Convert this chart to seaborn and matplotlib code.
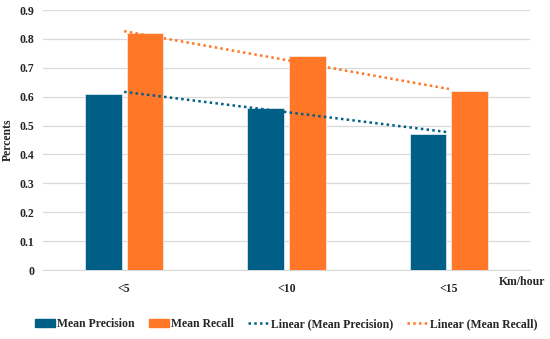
import pandas as pd
import seaborn as sns
import numpy as np
from matplotlib import pyplot as plt
from matplotlib.lines import Line2D

speeds = ["<5", "<10", "<15"]
mean_precision = [0.61, 0.56, 0.47]
mean_recall = [0.82, 0.74, 0.62]
y_ticks = [0, 0.1, 0.2, 0.3, 0.4, 0.5, 0.6, 0.7, 0.8, 0.9]

blue = "#005F86"
orange = "#FF7727"

df = pd.DataFrame({
    "speed": speeds * 2,
    "value": mean_precision + mean_recall,
    "metric": ["Mean Precision"] * 3 + ["Mean Recall"] * 3,
})

sns.set_style("white")
plt.rcParams["font.family"] = ["Liberation Serif", "DejaVu Serif"]
plt.rcParams["font.weight"] = "bold"

fig = plt.figure(figsize=(5.5, 3.39), dpi=100)
ax = fig.add_axes([0.078, 0.2035, 0.886, 0.767])

sns.barplot(
    df,
    x="speed",
    y="value",
    hue="metric",
    palette=[blue, orange],
    saturation=1,
    width=0.515,
    gap=0.12,
    edgecolor="#f0f0f0",
    linewidth=0.5,
    legend=False,
    ax=ax,
    zorder=3,
)

# linear trendlines (least squares over category index)
xs = np.arange(len(speeds))
for vals, col in [(mean_precision, blue), (mean_recall, orange)]:
    k, b = np.polyfit(xs, vals, 1)
    ax.plot(xs, k * xs + b, linestyle=(0, (1, 1.3)), color=col, linewidth=1.8, zorder=4)

ax.set_xlim(-0.5, 2.5)
ax.set_ylim(0, 0.9)
ax.set_yticks(y_ticks)
ax.set_yticklabels(["0" if t == 0 else f"{t:.1f}" for t in y_ticks])
ax.grid(axis="y", color="#d9d9d9", linewidth=0.9, zorder=0)
ax.tick_params(axis="both", length=0, labelsize=8.5, pad=6)
ax.tick_params(axis="x", pad=9)
for s in ["top", "right", "left"]:
    ax.spines[s].set_visible(False)
ax.spines["bottom"].set_color("#d9d9d9")
ax.set_xlabel("")
ax.set_ylabel("Percents", fontsize=8.5, fontweight="bold", labelpad=4)

fig.text(0.907, 0.16, "Km/hour", fontsize=8.5, fontweight="bold")

handles = [
    plt.Rectangle((0, 0), 1, 1, color=blue),
    plt.Rectangle((0, 0), 1, 1, color=orange),
    Line2D([0], [0], color=blue, linestyle=(0, (1, 1.3)), linewidth=1.8),
    Line2D([0], [0], color=orange, linestyle=(0, (1, 1.3)), linewidth=1.8),
]
labels = ["Mean Precision", "Mean Recall", "Linear (Mean Precision)", "Linear (Mean Recall)"]
fig.legend(handles, labels, loc="lower center", bbox_to_anchor=(0.52, -0.005), ncol=4,
           frameon=False, fontsize=8.5, handlelength=1.7, handleheight=0.6,
           handletextpad=0.2, columnspacing=1.2)

fig.savefig("out.png", dpi=100)
